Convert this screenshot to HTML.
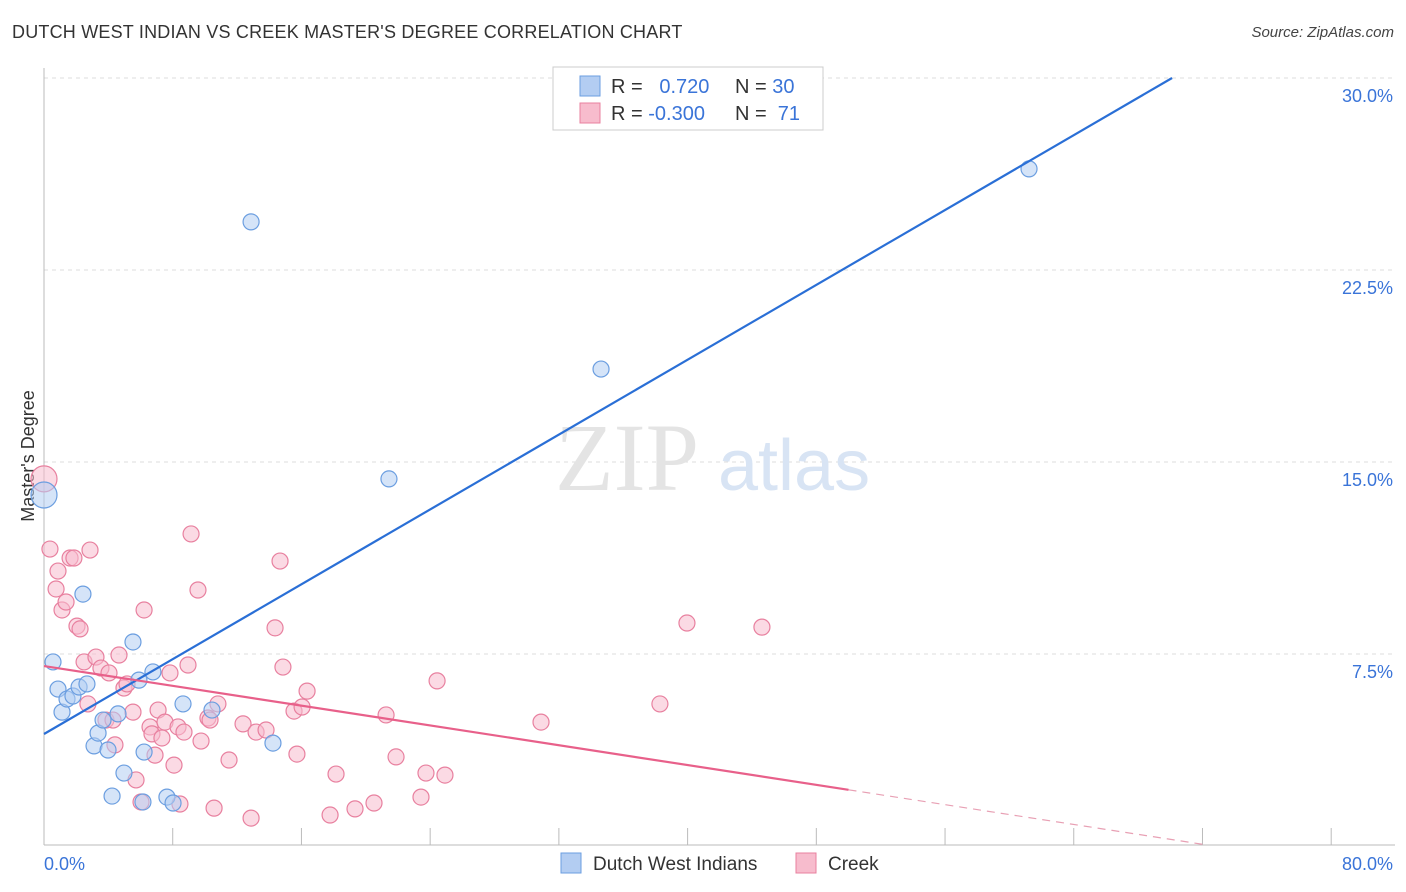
<!DOCTYPE html>
<html><head><meta charset="utf-8">
<style>
body{margin:0;background:#fff;font-family:"Liberation Sans",sans-serif;}
#wrap{position:relative;width:1406px;height:892px;overflow:hidden;}
.title{position:absolute;left:12px;top:22px;font-size:18px;color:#333;letter-spacing:0.2px}
.source{position:absolute;right:12px;top:24px;font-size:15px;color:#444;font-style:italic}
</style></head>
<body>
<div id="wrap">
<div class="title">DUTCH WEST INDIAN VS CREEK MASTER'S DEGREE CORRELATION CHART</div>
<div class="source">Source: ZipAtlas.com</div>
<svg id="chart" width="1406" height="892" style="position:absolute;left:0;top:0"></svg>
</div>
<script>
const blueX=[0,0.56,0.87,1.12,1.43,1.80,2.18,2.67,2.42,3.11,3.36,3.67,3.98,4.23,4.60,4.97,5.53,5.90,6.22,6.15,6.77,7.64,8.02,8.64,10.44,12.87,14.23,21.44,34.62,61.22];
const blueY=[13.71,7.19,6.13,5.23,5.74,5.86,6.21,6.33,9.84,3.91,4.41,4.92,3.75,1.95,5.16,2.85,7.97,6.48,3.67,1.72,6.80,1.91,1.68,5.55,5.31,24.38,4.02,14.34,18.63,26.45];
const pinkX=[0,.37,.75,.87,1.12,1.37,1.62,1.86,2.05,2.24,2.49,2.73,2.86,3.23,3.54,3.85,4.04,4.29,4.41,4.66,4.97,5.16,5.53,5.72,6.03,6.22,6.59,6.71,6.90,7.09,7.33,7.52,7.83,8.08,8.33,8.45,8.70,8.95,9.14,9.57,9.76,10.19,10.32,10.57,10.81,11.50,12.37,12.87,13.18,13.80,14.36,14.67,14.85,15.54,15.72,16.04,16.35,17.78,18.15,19.33,20.51,21.26,21.88,23.43,23.74,24.43,24.92,30.89,38.28,39.96,44.62];
const pinkY=[14.34,11.60,10.04,10.74,9.22,9.53,11.25,11.25,8.59,8.48,7.19,5.55,11.56,7.38,6.95,4.92,6.76,4.92,3.95,7.46,6.17,6.33,5.23,2.58,1.72,9.22,4.65,4.38,3.55,5.31,4.22,4.84,6.76,3.16,4.65,1.64,4.45,7.07,12.19,10.0,4.10,5.0,4.92,1.48,5.55,3.36,4.77,1.09,4.45,4.53,8.52,11.13,6.99,5.27,3.59,5.43,6.05,1.21,2.81,1.45,1.68,5.12,3.48,1.91,2.85,6.45,2.77,4.84,5.55,8.71,8.55];
const yTicks=[7.5,15,22.5,30];
const yTickLabels=["7.5%","15.0%","22.5%","30.0%"];
const xTickVals=[8,16,24,32,40,48,56,64,72,80];
const blueTrend=[4.375,0.3655];
const pinkTrend=[7.03,-0.0967];

const NS="http://www.w3.org/2000/svg";
const svg=document.getElementById('chart');
const X0=44,XS=16.09,Y0=846,YS=25.6;
function sx(v){return X0+v*XS;}
function sy(v){return Y0-v*YS;}
function mk(tag,attrs,parent){const e=document.createElementNS(NS,tag);for(const k in attrs)e.setAttribute(k,attrs[k]);(parent||svg).appendChild(e);return e;}

// gridlines
yTicks.forEach((t,i)=>{
  const g=mk('line',{x1:44,x2:1395,y1:sy(t),y2:sy(t),stroke:'#ddd','stroke-dasharray':'4,4'});
  
  
  const tx=mk('text',{x:1393,y:sy(t)+24,'text-anchor':'end','font-size':18,fill:'#3a74d8','font-family':'Liberation Sans'});
  tx.textContent=yTickLabels[i];
  
  
});
// axes
const ax=mk('line',{x1:44,x2:1395,y1:845,y2:845,stroke:'#bbb'});


const ay=mk('line',{x1:44,x2:44,y1:68,y2:845,stroke:'#bbb'});


xTickVals.forEach(v=>{
  const t=mk('line',{x1:sx(v),x2:sx(v),y1:828,y2:845,stroke:'#bbb'});
  
  
});
const xl0=mk('text',{x:44,y:870,'font-size':18,fill:'#3a74d8'});xl0.textContent='0.0%';


const xl1=mk('text',{x:1393,y:870,'font-size':18,fill:'#3a74d8','text-anchor':'end'});xl1.textContent='80.0%';


const yt=mk('text',{x:34,y:456,'font-size':18,fill:'#333','text-anchor':'middle',transform:'rotate(-90 34 456)'});yt.textContent="Master's Degree";


// watermark
const wm=mk('text',{x:555,y:490,'font-size':96,fill:'#e4e4e4','font-family':'Liberation Serif'});wm.textContent='ZIP';


const wm2=mk('text',{x:718,y:490,'font-size':72,fill:'#d8e4f4'});wm2.textContent='atlas';



// points
function pts(xs,ys,fill,stroke,name){
  xs.forEach((v,i)=>{
    const big=(v===0&&ys[i]>13);
    const c=mk('circle',{cx:sx(v),cy:sy(ys[i]),r:big?13:8,fill:fill,'fill-opacity':0.55,stroke:stroke,'stroke-width':1.2});
    
    
  });
}
pts(pinkX,pinkY,'#f7bccd','#e8809f','creek-point');
pts(blueX,blueY,'#b3cdf2','#6b9ee0','dutch-west-indian-point');

// trend lines
const bx2=(30-blueTrend[0])/blueTrend[1];
const bl=mk('line',{x1:sx(0),y1:sy(blueTrend[0]),x2:sx(bx2),y2:sy(30),stroke:'#2a6fd6','stroke-width':2.2});


const pl=mk('line',{x1:sx(0),y1:sy(pinkTrend[0]),x2:sx(50),y2:sy(pinkTrend[0]+50*pinkTrend[1]),stroke:'#e8608a','stroke-width':2.2});


const pd=mk('line',{x1:sx(50),y1:sy(pinkTrend[0]+50*pinkTrend[1]),x2:sx(72),y2:sy(pinkTrend[0]+72*pinkTrend[1]),stroke:'#e8a0b4','stroke-width':1.2,'stroke-dasharray':'8,6'});



// legend
const lg=mk('g',{});


mk('rect',{x:553,y:67,width:270,height:63,fill:'#fff',stroke:'#ccc'},lg);
function legRow(y,fill,stroke,r,n,name){
  const s=mk('rect',{x:580,y:y-10,width:20,height:20,fill:fill,stroke:stroke},lg);
  
  
  const t=mk('text',{x:611,y:y+7,'font-size':20,fill:'#333'},lg);
  t.innerHTML='R = <tspan fill="#3a74d8">'+r+'</tspan>';
  
  
  const t2=mk('text',{x:735,y:y+7,'font-size':20,fill:'#333'},lg);
  t2.innerHTML='N = <tspan fill="#3a74d8">'+n+'</tspan>';
  
  
}
legRow(86,'#b3cdf2','#6b9ee0','\u00a0\u00a00.720','30','legend-blue');
legRow(113,'#f7bccd','#e8809f','-0.300','\u00a071','legend-pink');

// bottom legend
function bLeg(x,fill,stroke,label,name){
  const s=mk('rect',{x:x,y:853,width:20,height:20,fill:fill,stroke:stroke});
  
  
  const t=mk('text',{x:x+32,y:870,'font-size':19,fill:'#333'});t.textContent=label;
  
  
}
bLeg(561,'#b3cdf2','#6b9ee0','Dutch West Indians','legend-dutch-west-indians');
bLeg(796,'#f7bccd','#e8809f','Creek','legend-creek');
</script>
</body></html>
